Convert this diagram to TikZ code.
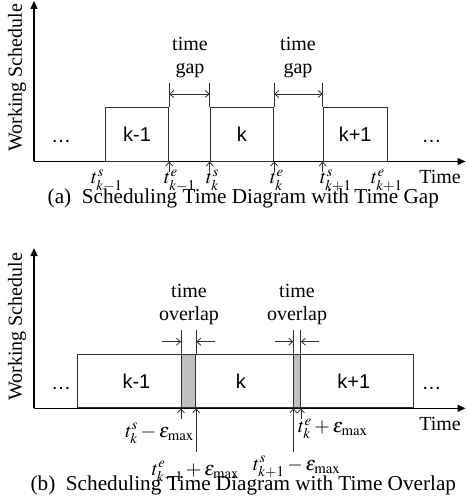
\documentclass[tikz,border=0pt]{standalone}
\usepackage{mathptmx}
\usepackage[no-math]{fontspec}
\setmainfont{Liberation Serif}
\newfontfamily\arialfont{Liberation Sans}
\usetikzlibrary{arrows.meta}
\definecolor{schedInk}{HTML}{000000}
\definecolor{schedEdge}{HTML}{303030}
\definecolor{schedLap}{HTML}{C0C0C0}
\newcommand{\emax}{\epsilon_{\mathrm{max}}}
\tikzset{
  axis/.style    = {-{Triangle[length=8pt,width=7pt]}, line width=1.3pt, draw=schedInk},
  jobbox/.style  = {draw=schedEdge, line width=0.9pt, anchor=south west, inner sep=0pt,
                    minimum height=53.5pt, font=\arialfont\fontsize{20}{24}\selectfont},
  lapbox/.style  = {draw=schedEdge, fill=schedLap, line width=0.9pt, anchor=south west,
                    inner sep=0pt, minimum height=53.5pt},
  boxedge/.style = {line width=0.9pt, draw=schedEdge},
  tickarr/.style = {-{Straight Barb[length=4pt,width=7pt]}, line width=0.8pt, draw=schedEdge},
  span/.style    = {{Straight Barb[length=4pt,width=7pt]}-{Straight Barb[length=4pt,width=7pt]},
                    line width=0.8pt, draw=schedEdge},
  lbl/.style     = {font=\fontsize{20}{23}\selectfont, inner sep=0pt},
  dots/.style    = {font=\arialfont\fontsize{20}{24}\selectfont, inner sep=0pt, anchor=base},
  captext/.style = {font=\fontsize{21.2}{24}\selectfont, inner sep=0pt, anchor=base},
}
\begin{document}
\begin{tikzpicture}[x=1pt, y=-1pt]
  \useasboundingbox (0,0) rectangle (466,502);

  % (a) time gap
  \coordinate (o1) at (34,161.5);
  \coordinate (x1) at (465.5,161.5);
  \coordinate (y1) at (34,1);
  \draw[axis] (o1) -- (x1);
  \draw[axis] (o1) -- (y1);
  \node[lbl, rotate=90] (ws1) at (17,78) {Working Schedule};

  \node[jobbox, minimum width=63.3pt] (a1) at (105,161.5) {k-1};
  \node[jobbox, minimum width=63.6pt] (a2) at (209.7,161.5) {k};
  \node[jobbox, minimum width=64pt] (a3) at (322.7,161.5) {k+1};
  \node[dots] (d1) at (61,142.7) {\ldots};
  \node[dots] (d2) at (431.7,142.7) {\ldots};

  \coordinate (gt) at (0,83);
  \coordinate (gm) at (0,94);
  \draw[boxedge] (a1.north east) -- (a1.east |- gt);
  \draw[boxedge] (a2.north west) -- (a2.west |- gt);
  \draw[boxedge] (a2.north east) -- (a2.east |- gt);
  \draw[boxedge] (a3.north west) -- (a3.west |- gt);
  \draw[span] (a1.east |- gm) -- (a2.west |- gm);
  \draw[span] (a2.east |- gm) -- (a3.west |- gm);
  \node[lbl, align=center] (gap1) at (190,58) {time\\gap};
  \node[lbl, align=center] (gap2) at (298,58) {time\\gap};

  \foreach \p/\n in {a1.south east/u1, a2.south west/u2, a2.south east/u3, a3.south west/u4} {
    \coordinate (\n) at ([yshift=-11pt]\p);
    \draw[tickarr] (\n) -- (\p);
  }
  \node[lbl, anchor=base west] (ts0) at (91,184) {$t^{s}_{k-1}$};
  \node[lbl, anchor=base west] (te0) at (164,184) {$t^{e}_{k-1}$};
  \node[lbl, anchor=base west] (ts1) at (206,184) {$t^{s}_{k}$};
  \node[lbl, anchor=base west] (te1) at (270,184) {$t^{e}_{k}$};
  \node[lbl, anchor=base west] (ts2) at (320,184) {$t^{s}_{k+1}$};
  \node[lbl, anchor=base west] (te2) at (371,184) {$t^{e}_{k+1}$};
  \node[lbl, anchor=base] (tm1) at (440,184) {Time};
  \node[captext] (capa) at (243.3,203.5) {(a)\ \ Scheduling Time Diagram with Time Gap};

  % (b) time overlap
  \coordinate (o2) at (34,408.3);
  \coordinate (x2) at (465.5,408.3);
  \coordinate (y2) at (34,248);
  \draw[axis] (o2) -- (x2);
  \draw[axis] (o2) -- (y2);
  \node[lbl, rotate=90] (ws2) at (17,327) {Working Schedule};

  \node[lapbox, minimum width=14.3pt] (l1) at (181,408.3) {};
  \node[lapbox, minimum width=6.7pt] (l2) at (293.3,408.3) {};
  \node[jobbox, minimum width=118.6pt] (b1) at (76.7,408.3) {k-1};
  \node[jobbox, minimum width=119pt] (b2) at (181,408.3) {k};
  \node[jobbox, minimum width=120pt] (b3) at (293.3,408.3) {k+1};
  \node[dots] (d3) at (61,389) {\ldots};
  \node[dots] (d4) at (431.7,389) {\ldots};

  \coordinate (ot) at (0,330);
  \coordinate (om) at (0,341.7);
  \coordinate (ob) at (0,451.7);
  \draw[boxedge] (b2.north west) -- (b2.west |- ot);
  \draw[boxedge] (b1.north east) -- (b1.east |- ot);
  \draw[boxedge] (b3.north west) -- (b3.west |- ot);
  \draw[boxedge] (b2.north east) -- (b2.east |- ot);
  \coordinate (v1) at (162,341.7);
  \coordinate (v2) at (215,341.7);
  \coordinate (v3) at (275,341.7);
  \coordinate (v4) at (319.3,341.7);
  \draw[tickarr] (v1) -- (b2.west |- om);
  \draw[tickarr] (v2) -- (b1.east |- om);
  \draw[tickarr] (v3) -- (b3.west |- om);
  \draw[tickarr] (v4) -- (b2.east |- om);
  \node[lbl, align=center] (lap1) at (189,305) {time\\overlap};
  \node[lbl, align=center] (lap2) at (297,305) {time\\overlap};

  \coordinate (w1) at ([yshift=-11pt]b2.south west);
  \coordinate (w2) at ([yshift=-11pt]b2.south east);
  \draw[tickarr] (w1) -- (b2.south west);
  \draw[tickarr] (w2) -- (b2.south east);
  \draw[tickarr] (b1.east |- ob) -- (b1.south east);
  \draw[tickarr] (b3.west |- ob) -- (b3.south west);

  \node[lbl, anchor=base east] (sm1) at (194,437) {$t^{s}_{k}-\emax$};
  \node[lbl, anchor=base west] (ep0) at (151.7,475) {$t^{e}_{k-1}+\emax$};
  \node[lbl, anchor=base west] (ep1) at (298,432.7) {$t^{e}_{k}+\emax$};
  \node[lbl, anchor=base west] (sm2) at (253,470) {$t^{s}_{k+1}-\emax$};
  \node[lbl, anchor=base] (tm2) at (440,430) {Time};
  \node[captext] (capb) at (243.3,490.3) {(b)\ \ Scheduling Time Diagram with Time Overlap};
\end{tikzpicture}
\end{document}
